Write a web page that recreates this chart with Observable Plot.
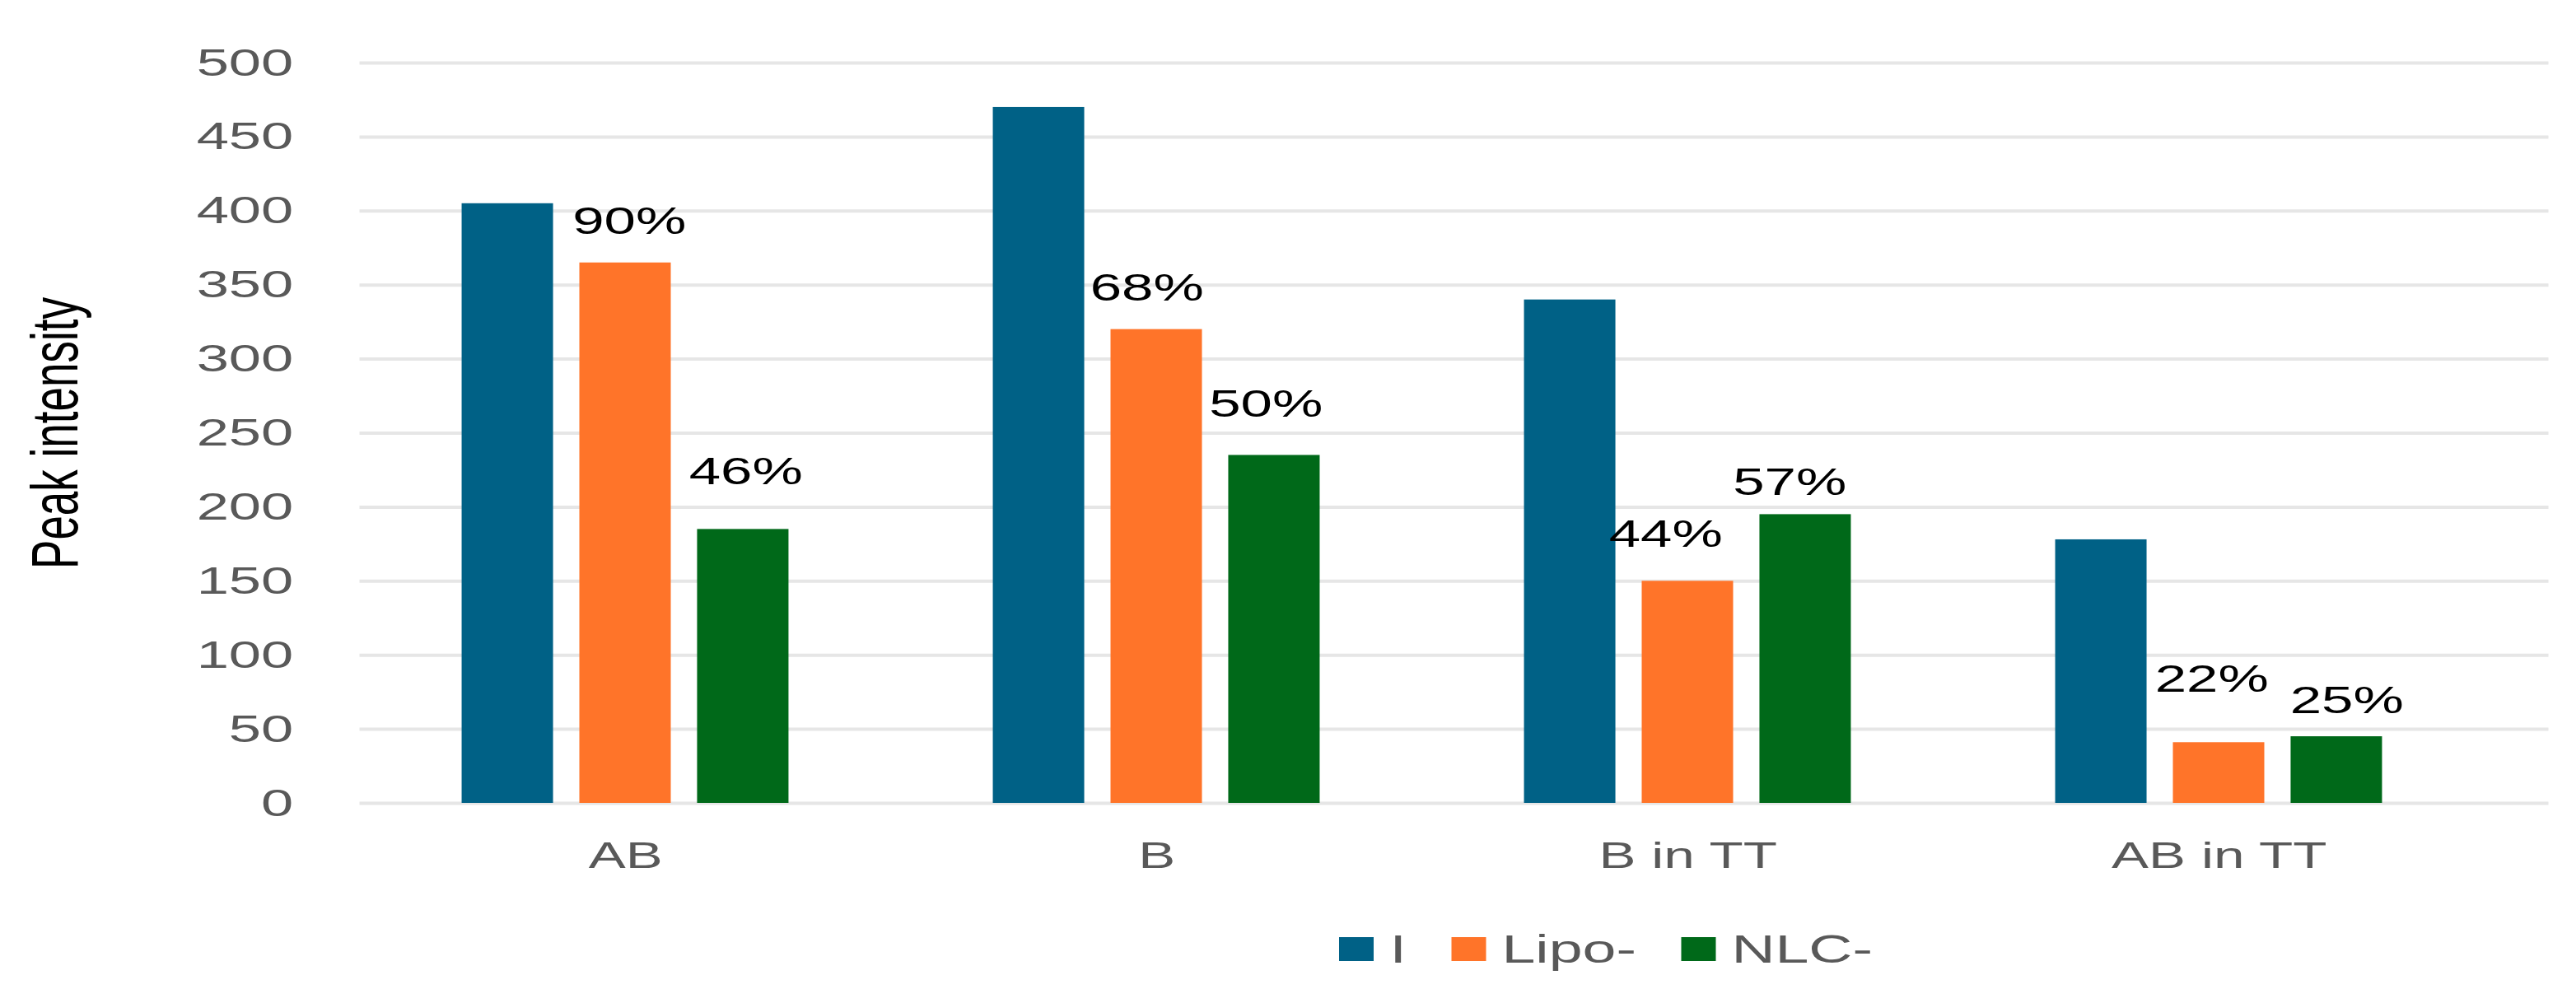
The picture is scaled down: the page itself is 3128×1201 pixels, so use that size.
<!DOCTYPE html>
<html>
<head>
<meta charset="utf-8">
<script src="https://cdn.jsdelivr.net/npm/d3@7"></script>
<script src="https://cdn.jsdelivr.net/npm/@observablehq/plot@0.6"></script>
<style>
  html, body { margin: 0; padding: 0; background: #ffffff; }
  body { width: 3128px; height: 1201px; overflow: hidden; }
  #wrap {
    width: 2085px; height: 1201px;
    transform: scaleX(1.5); transform-origin: 0 0;
    font-family: "Liberation Sans", Arial, sans-serif;
  }
  #legend { position: relative; height: 101px; }
  #legend .items { position: absolute; left: 1084px; top: 38px; display: flex; align-items: center; }
  #legend .sw { display: inline-block; width: 28px; height: 29px; margin-right: 13px; }
  #legend .lb { font-size: 49px; line-height: 29px; color: #595959; margin-right: 36px; }
</style>
</head>
<body>
<div id="wrap">
  <div id="chart"></div>
  <div id="legend"><div class="items"></div></div>
</div>
<script>
// ---- data ----
const categories = ["AB", "B", "B in TT", "AB in TT"];
const series = ["I", "Lipo-", "NLC-"];
const valuesI = [405, 470, 340, 178];
const valuesLipo = [365, 320, 150, 41];
const valuesNLC = [185, 235, 195, 45];
const pctLipo = ["90%", "68%", "44%", "22%"];
const pctNLC = ["46%", "50%", "57%", "25%"];
const yTicks = [0, 50, 100, 150, 200, 250, 300, 350, 400, 450, 500];
const colors = ["#006186", "#FF7429", "#006919"];
const yTitle = "Peak intensity";

// ---- label placement nudges (screen px, as hand-placed in the original) ----
const nudgeLipo = [[3, -50], [-8, -50], [-18, -57], [-6, -77]];
const nudgeNLC = [[2, -70], [-7, -62], [-13, -39], [8, -43]];

// ---- table ----
const seriesValues = [valuesI, valuesLipo, valuesNLC];
const seriesLabels = [null, pctLipo, pctNLC];
const seriesNudges = [null, nudgeLipo, nudgeNLC];
const data = categories.flatMap((c, i) =>
  series.map((s, j) => ({
    category: c,
    series: s,
    value: seriesValues[j][i],
    label: seriesLabels[j] ? seriesLabels[j][i] : null,
    nudge: seriesNudges[j] ? seriesNudges[j][i] : [0, 0]
  }))
);

// ---- layout (unstretched units; page is stretched 1.5x horizontally) ----
const W = 2085, H = 1100;
const BAR_STEP = 95.3;

const marks = [
  Plot.gridY({ticks: yTicks, stroke: "#e6e6e6", strokeOpacity: 1, strokeWidth: 4}),
];
series.forEach((s, j) => {
  marks.push(Plot.barY(data.filter(d => d.series === s), {
    x: "category", y: "value", fill: "series", dx: (j - 1) * BAR_STEP
  }));
});
// percentage labels: one text mark per label so each keeps its own nudge
data.filter(d => d.label).forEach(d => {
  const j = series.indexOf(d.series);
  marks.push(Plot.text([d], {
    x: "category", y: "value", text: "label",
    dx: (j - 1) * BAR_STEP + d.nudge[0], dy: d.nudge[1],
    fontSize: 46, fill: "#000000", lineAnchor: "middle", textAnchor: "middle"
  }));
});
marks.push(
  Plot.axisY({ticks: yTicks, tickSize: 0, tickPadding: 54, fontSize: 47, label: null}),
  Plot.axisX({tickSize: 0, tickPadding: 47, fontSize: 45, label: null}),
  Plot.text([yTitle], {
    text: d => d, frameAnchor: "left", rotate: -90, dx: -246,
    fontSize: 53, fill: "#000000", lineAnchor: "middle", textAnchor: "middle"
  })
);

const plot = Plot.plot({
  width: W,
  height: H,
  marginTop: 76,
  marginBottom: 125,
  marginLeft: 291,
  marginRight: 22,
  style: {fontFamily: "Liberation Sans, Arial, sans-serif", color: "#595959", background: "#ffffff"},
  x: {domain: categories, range: [290, 2012], paddingInner: 0.828, paddingOuter: 0.414, label: null},
  y: {domain: [0, 500], label: null},
  color: {domain: series, range: colors},
  marks
});
document.getElementById("chart").appendChild(plot);

// ---- legend ----
const colorScale = plot.scale("color");
const items = document.querySelector("#legend .items");
series.forEach((s, j) => {
  const sw = document.createElement("span");
  sw.className = "sw";
  sw.style.background = colorScale.range[j];
  const lb = document.createElement("span");
  lb.className = "lb";
  lb.textContent = s;
  items.appendChild(sw);
  items.appendChild(lb);
});
</script>
</body>
</html>
